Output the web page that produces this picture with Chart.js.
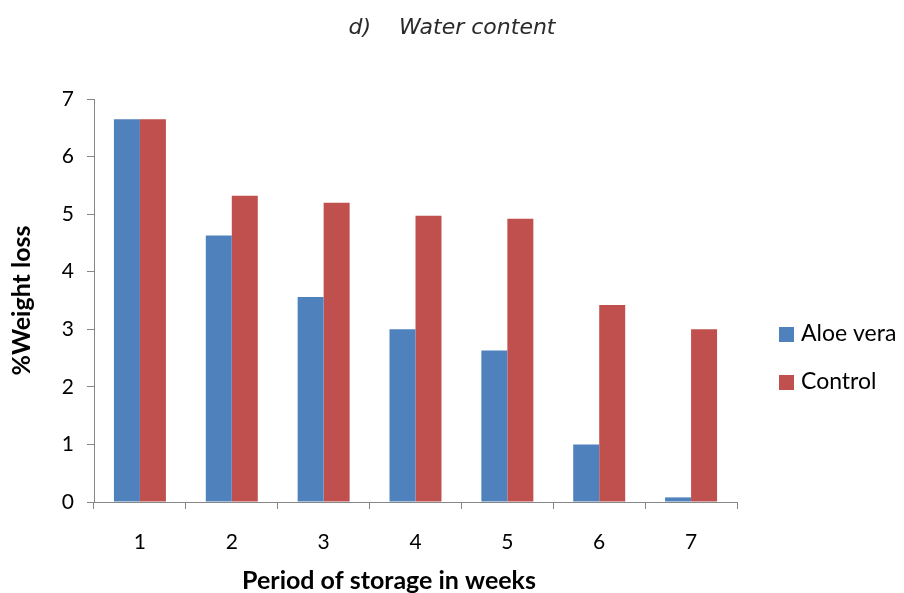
<!DOCTYPE html>
<html>
<head>
<meta charset="utf-8">
<script src="https://cdn.jsdelivr.net/npm/chart.js@4.4.1/dist/chart.umd.min.js"></script>
<style>
  html, body { margin: 0; padding: 0; background: #fff; }
  #wrap { width: 904px; height: 593px; position: relative; }
</style>
</head>
<body>
<div id="wrap"><canvas id="myChart"></canvas></div>
<script>
// data
const weeks = ['1', '2', '3', '4', '5', '6', '7'];
const aloeVera = [6.65, 4.63, 3.56, 3.0, 2.63, 1.0, 0.08];
const control = [6.65, 5.32, 5.2, 4.97, 4.92, 3.42, 3.0];
const yTicks = [0, 1, 2, 3, 4, 5, 6, 7];

const chartTitle = 'd)    Water content';
const xTitle = 'Period of storage in weeks';
const axisColor = '#868686';

// page title, x axis title and legend drawn by hand
// so they sit where the original ones are
const extras = {
  id: 'extras',
  afterDraw(chart) {
    const ctx = chart.ctx;
    ctx.save();
    ctx.textBaseline = 'middle';

    ctx.font = 'italic 22px "DejaVu Sans"';
    ctx.textAlign = 'center';
    ctx.fillStyle = '#2a2a2a';
    ctx.fillText(chartTitle, chart.width / 2, 28);

    ctx.font = 'bold 25px Lato';
    ctx.fillStyle = '#000';
    ctx.textBaseline = 'alphabetic';
    ctx.fillText(xTitle, 389, 589);

    const rows = [334, 382];
    ctx.font = '23px Lato';
    ctx.textAlign = 'left';
    ctx.textBaseline = 'middle';
    chart.data.datasets.forEach(function (ds, i) {
      ctx.fillStyle = ds.backgroundColor;
      ctx.fillRect(779, rows[i] - 7, 15, 15);
      ctx.fillStyle = '#000';
      ctx.fillText(ds.label, 801, rows[i]);
    });
    ctx.restore();
  }
};

function drawChart() {
  const ctx = document.getElementById('myChart').getContext('2d');
  const myChart = new Chart(ctx, {
    type: 'bar',
    data: {
      labels: weeks,
      datasets: [{
        label: 'Aloe vera',
        data: aloeVera,
        backgroundColor: '#4F81BD',
        categoryPercentage: 0.566,
        barPercentage: 1.0
      }, {
        label: 'Control',
        data: control,
        backgroundColor: '#C0504D',
        categoryPercentage: 0.566,
        barPercentage: 1.0
      }]
    },
    options: {
      responsive: true,
      maintainAspectRatio: false,
      animation: false,
      layout: {
        padding: { left: 0, right: 167, top: 99, bottom: 0 }
      },
      plugins: {
        legend: { display: false },
        tooltip: { enabled: false }
      },
      scales: {
        x: {
          grid: {
            offset: true,
            drawOnChartArea: false,
            drawTicks: true,
            tickLength: 7,
            color: axisColor
          },
          border: { color: axisColor, width: 1 },
          ticks: {
            color: '#000',
            padding: 21,
            font: { family: 'Lato', size: 21 }
          },
          afterFit(scale) { scale.height = 91; }
        },
        y: {
          min: 0,
          max: 7,
          afterBuildTicks(scale) {
            scale.ticks = yTicks.map(v => ({ value: v }));
          },
          grid: {
            drawOnChartArea: false,
            drawTicks: true,
            tickLength: 7,
            color: axisColor
          },
          border: { color: axisColor, width: 1 },
          ticks: {
            color: '#000',
            padding: 13,
            font: { family: 'Lato', size: 21 }
          },
          title: {
            display: true,
            text: '%Weight loss',
            color: '#000',
            font: { family: 'Lato', size: 25, weight: 'bold', lineHeight: 1 },
            padding: { top: 9, bottom: 0 }
          },
          afterFit(scale) { scale.width = 94; }
        }
      }
    },
    plugins: [extras]
  });
}

drawChart();
</script>
</body>
</html>
